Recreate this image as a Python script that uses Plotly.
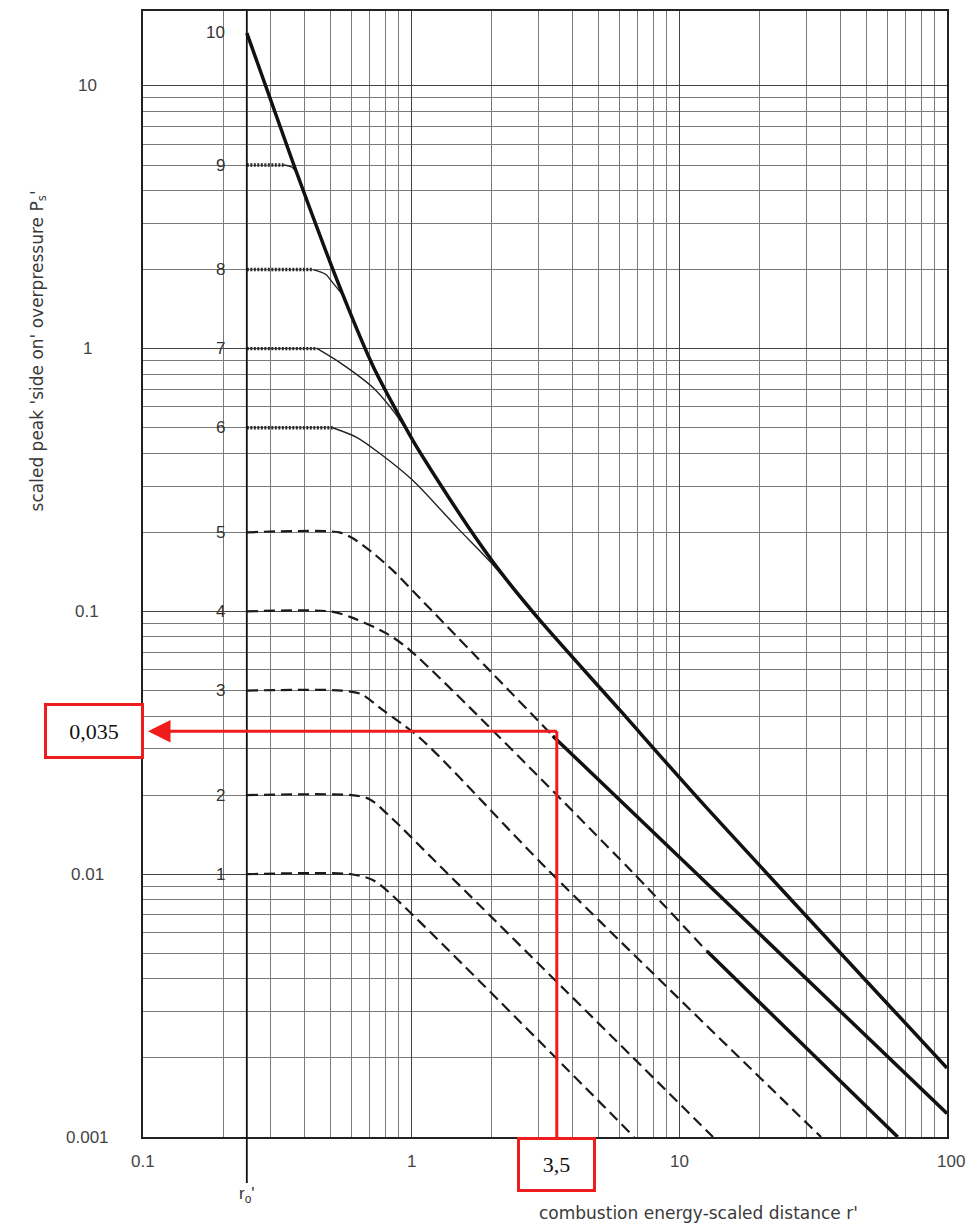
import numpy as np
import plotly.graph_objects as go

# ---------------- data ----------------
x_tick_vals = [0.1, 1, 10, 100]
x_tick_text = ["0.1", "1", "10", "100"]
y_tick_vals = [0.001, 0.01, 0.1, 1, 10]
y_tick_text = ["0.001", "0.01", "0.1", "1", "10"]

r0 = 0.244  # r_o'

# main heavy envelope (strength 10 -> far field)
main_r = [0.244, 0.363, 0.543, 0.721, 1.017, 1.28, 1.70, 2.15, 3.03, 6.03, 11.97, 100]
main_p = [15.9, 5.1, 1.71, 0.86, 0.447, 0.307, 0.198, 0.142, 0.0925, 0.042, 0.0191, 0.00183]

# strengths 6-9: hatched plateau + thin bend into the envelope
c9_flat_r = [0.244, 0.335]
c9_flat_p = [5, 5]
c9_bend_r = [0.335, 0.36, 0.385]
c9_bend_p = [5, 4.9, 4.45]

c8_flat_r = [0.244, 0.43]
c8_flat_p = [2, 2]
c8_bend_r = [0.43, 0.48, 0.511, 0.557]
c8_bend_p = [2, 1.92, 1.78, 1.6]

c7_flat_r = [0.244, 0.447]
c7_flat_p = [1, 1]
c7_bend_r = [0.447, 0.543, 0.721, 0.857, 0.99]
c7_bend_p = [1, 0.885, 0.711, 0.581, 0.47]

c6_flat_r = [0.244, 0.51]
c6_flat_p = [0.5, 0.5]
c6_bend_r = [0.51, 0.629, 0.766, 1.017, 1.49, 1.97, 2.9]
c6_bend_p = [0.5, 0.459, 0.399, 0.315, 0.208, 0.155, 0.098]

# strength 5: dashed, then heavy far field
c5_dash_r = [0.244, 0.54, 0.606, 0.72, 0.857, 1.11, 3.38]
c5_dash_p = [0.2, 0.2, 0.19, 0.167, 0.143, 0.109, 0.0336]
c5_heavy_r = [3.38, 100]
c5_heavy_p = [0.0336, 0.00123]

# strength 4: dashed, then heavy far field
c4_dash_r = [0.244, 0.5, 0.606, 0.81, 0.99, 6.57, 12.7]
c4_dash_p = [0.1, 0.1, 0.0945, 0.0825, 0.0713, 0.0104, 0.0051]
c4_heavy_r = [12.7, 65.5]
c4_heavy_p = [0.0051, 0.001]

# strengths 1-3: dashed
c3_r = [0.244, 0.55, 0.65, 0.786, 1.09, 3.21, 33.9]
c3_p = [0.05, 0.05, 0.0485, 0.0421, 0.0327, 0.0105, 0.001]
c2_r = [0.244, 0.6, 0.7, 0.85, 1.2, 13.4]
c2_p = [0.02, 0.02, 0.0193, 0.0163, 0.0115, 0.001]
c1_r = [0.244, 0.6, 0.72, 0.81, 6.8]
c1_p = [0.01, 0.01, 0.0095, 0.0087, 0.001]

strength_labels = ["1", "2", "3", "4", "5", "6", "7", "8", "9", "10"]
strength_start_p = [0.01, 0.02, 0.05, 0.1, 0.2, 0.5, 1, 2, 5, 15.9]

# red reading annotation
read_r = 3.5
read_p = 0.035
read_r_text = "3,5"
read_p_text = "0,035"

# ---------------- layout constants ----------------
W, H = 968, 1225
ML, MR, MT, MB = 143, 21, 9, 88
PW, PH = W - ML - MR, H - MT - MB
x_range = [-1, 2]
y_range = [-3, 1.285]

SANS = "Liberation Sans, Arial, sans-serif"
WIDE = "DejaVu Sans, Liberation Sans, sans-serif"
SERIF = "Liberation Serif, Times New Roman, serif"


def xp(v):
    return (np.log10(v) - x_range[0]) / (x_range[1] - x_range[0])


def yp(v):
    return (np.log10(v) - y_range[0]) / (y_range[1] - y_range[0])


fig = go.Figure()


def add(r, p, width, dash=None, color="#111111", smoothing=0.8):
    shape = "spline" if smoothing > 0 else "linear"
    line = dict(color=color, width=width, dash=dash, shape=shape)
    if smoothing > 0:
        line["smoothing"] = smoothing
    fig.add_trace(go.Scatter(x=r, y=p, mode="lines", line=line,
                             hoverinfo="skip", showlegend=False))


HATCH = "2px,1.5px"
DASH = "11px,6px"

# dashed curves 1-5
for r, p in [(c1_r, c1_p), (c2_r, c2_p), (c3_r, c3_p), (c4_dash_r, c4_dash_p), (c5_dash_r, c5_dash_p)]:
    add(r, p, 2.2, DASH, "#1a1a1a")

# heavy far-field lines of 4 and 5
add(c4_heavy_r, c4_heavy_p, 3.5, None, "#111111", 0)
add(c5_heavy_r, c5_heavy_p, 3.5, None, "#111111", 0)

# curves 6-9
for fr, fpp, br, bp in [(c6_flat_r, c6_flat_p, c6_bend_r, c6_bend_p),
                        (c7_flat_r, c7_flat_p, c7_bend_r, c7_bend_p),
                        (c8_flat_r, c8_flat_p, c8_bend_r, c8_bend_p),
                        (c9_flat_r, c9_flat_p, c9_bend_r, c9_bend_p)]:
    add(fr, fpp, 3.4, HATCH, "#2a2a2a")
    add(br, bp, 1.4, None, "#222222")

# main envelope
add(main_r, main_p, 3.5, None, "#111111", 0.7)

annotations = []
shapes = []

# strength labels
for lab, p in zip(strength_labels, strength_start_p):
    annotations.append(dict(
        x=np.log10(r0), y=np.log10(p), xref="x", yref="y", text=lab,
        showarrow=False, xanchor="right", yanchor="middle", xshift=-20,
        font=dict(family=SANS, size=17, color="#333333")))

# y tick labels
for v, t in zip(y_tick_vals, y_tick_text):
    annotations.append(dict(
        x=-56 / PW, y=yp(v), xref="paper", yref="paper", text=t, showarrow=False,
        xanchor="center", yanchor="middle",
        font=dict(family=SANS, size=17, color="#444444")))

# x tick labels
for v, t in zip(x_tick_vals, x_tick_text):
    annotations.append(dict(
        x=xp(v), y=-25 / PH, xref="paper", yref="paper", text=t, showarrow=False,
        xanchor="center", yanchor="middle", xshift=4 if v == 100 else 0,
        font=dict(family=SANS, size=17, color="#444444")))

# r_o' label and tick line
annotations.append(dict(
    x=xp(r0), y=-58 / PH, xref="paper", yref="paper", text="r<sub>o</sub>'", showarrow=False,
    xanchor="center", yanchor="middle",
    font=dict(family=SANS, size=17, color="#333333")))
shapes.append(dict(type="line", xref="paper", yref="paper", x0=xp(r0), x1=xp(r0),
                   y0=-46 / PH, y1=1, line=dict(color="#111111", width=1.8)))

# axis titles
annotations.append(dict(
    x=-105 / PW, y=(H - MB - 350) / PH, xref="paper", yref="paper",
    text="scaled peak 'side on' overpressure P<sub>s</sub>'", showarrow=False, textangle=-90,
    xanchor="center", yanchor="middle",
    font=dict(family=WIDE, size=17, color="#3a3a3a")))
annotations.append(dict(
    x=(698 - ML) / PW, y=-76 / PH, xref="paper", yref="paper",
    text="combustion energy-scaled distance r'", showarrow=False,
    xanchor="center", yanchor="middle",
    font=dict(family=WIDE, size=17, color="#3a3a3a")))

# red reading lines
RED = "#ee1c1c"
shapes.append(dict(type="line", xref="paper", yref="paper", x0=xp(read_r), x1=xp(read_r),
                   y0=0, y1=yp(read_p), line=dict(color=RED, width=3)))
shapes.append(dict(type="line", xref="paper", yref="paper", x0=12 / PW, x1=xp(read_r),
                   y0=yp(read_p), y1=yp(read_p), line=dict(color=RED, width=3)))
annotations.append(dict(
    x=5 / PW, y=yp(read_p), xref="paper", yref="paper", text="", showarrow=True,
    ax=20, ay=0, arrowhead=2, arrowsize=1.5, arrowwidth=3, arrowcolor=RED))

annotations.append(dict(
    x=-49 / PW, y=yp(read_p), xref="paper", yref="paper", text=read_p_text, showarrow=False,
    xanchor="center", yanchor="middle", width=94, height=50, borderpad=0,
    bordercolor=RED, borderwidth=3, bgcolor="white",
    font=dict(family=SERIF, size=22, color="#111111")))
annotations.append(dict(
    x=xp(read_r), y=-28 / PH, xref="paper", yref="paper", text=read_r_text, showarrow=False,
    xanchor="center", yanchor="middle", width=73, height=49, borderpad=0,
    bordercolor=RED, borderwidth=3, bgcolor="white",
    font=dict(family=SERIF, size=22, color="#111111")))

axis_common = dict(
    type="log", showline=True, linecolor="#222222", linewidth=2, mirror=True,
    showgrid=True, gridcolor="#444444", gridwidth=1, zeroline=False,
    showticklabels=False, ticks="", dtick=1,
    minor=dict(dtick="D1", showgrid=True, gridcolor="#7a7a7a", gridwidth=1, ticks=""),
)

fig.update_layout(
    width=W, height=H,
    margin=dict(l=ML, r=MR, t=MT, b=MB),
    paper_bgcolor="white", plot_bgcolor="white",
    xaxis=dict(range=x_range, **axis_common),
    yaxis=dict(range=y_range, **axis_common),
    annotations=annotations, shapes=shapes, showlegend=False,
)

fig.write_html("out.html", config={"displayModeBar": False},
               post_script="document.body.style.margin='0px';")
